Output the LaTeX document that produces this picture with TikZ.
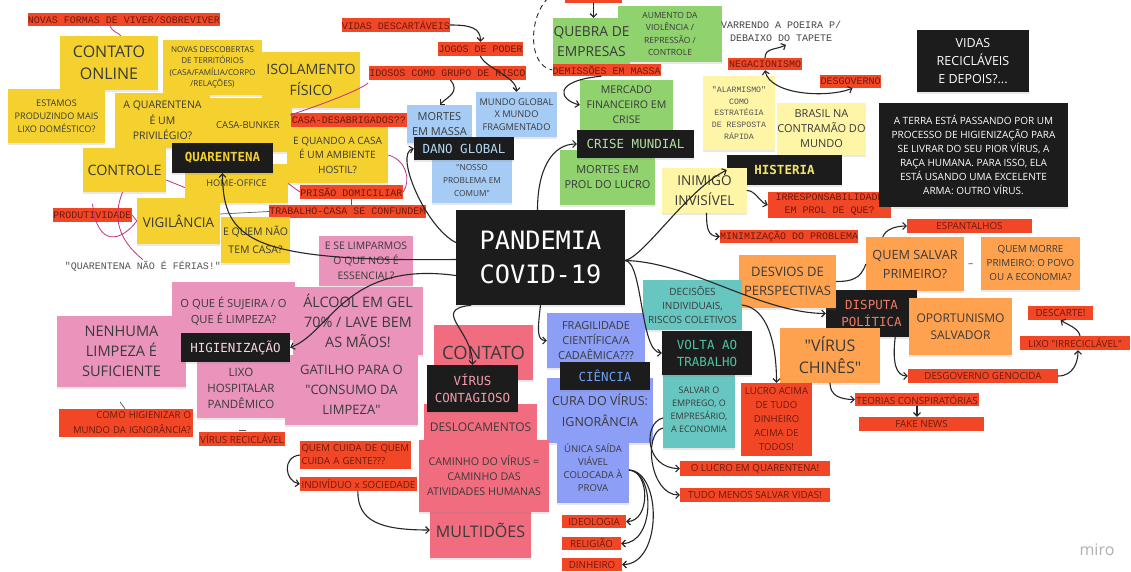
\documentclass[tikz,border=0pt]{standalone}
\usepackage{fontspec}
\setmainfont{Open Sans}
\newfontfamily\cour{Liberation Mono}
\newfontfamily\dmono{DejaVu Sans Mono}
\usetikzlibrary{arrows.meta,calc,shadows}
\definecolor{cyel}{HTML}{F5D12F}
\definecolor{clyel}{HTML}{FEF5A6}
\definecolor{cblu}{HTML}{A6CCF5}
\definecolor{cgrn}{HTML}{8FD26E}
\definecolor{corg}{HTML}{FFA24F}
\definecolor{ctea}{HTML}{67C6C0}
\definecolor{cper}{HTML}{8C9EF5}
\definecolor{cpnk}{HTML}{EA94BB}
\definecolor{cslm}{HTML}{F16C7F}
\definecolor{cred}{HTML}{F24726}
\definecolor{ctxt}{HTML}{6B1A0C}
\definecolor{cblk}{HTML}{1C1C1C}
\definecolor{ntext}{HTML}{3A3A3A}
\definecolor{tq}{HTML}{F5D12F}
\definecolor{tdano}{HTML}{B3D7F2}
\definecolor{tcrise}{HTML}{B4DFA0}
\definecolor{thist}{HTML}{F2E46B}
\definecolor{thig}{HTML}{F4D4E4}
\definecolor{tvir}{HTML}{F49BAB}
\definecolor{tcien}{HTML}{6FA0F2}
\definecolor{tvolta}{HTML}{4CC3A5}
\definecolor{tdisp}{HTML}{F07A64}
\definecolor{cline}{HTML}{262626}
\definecolor{cpinkl}{HTML}{C2308A}
\definecolor{cgraytext}{HTML}{555555}
\definecolor{cmiro}{HTML}{B0B0B0}
\newcommand\fs[2]{\fontsize{#1}{#2}\selectfont}
\newcommand\qq{\textquotedbl}
\newcommand\bx[7]{%
  \pgfmathsetmacro\myBW{#5-#3}%
  \pgfmathsetmacro\myBH{#6-#4}%
  \node[#1, minimum width=\myBW pt, minimum height=\myBH pt] (#2) at ({(#3+#5)/2},{(#4+#6)/2}) {#7};}
\tikzset{
  shd/.style={drop shadow={shadow xshift=0pt,shadow yshift=-2pt,opacity=.18}},
  base/.style={inner sep=0pt, align=center, text=ntext, shd},
  yel/.style={base, fill=cyel},
  lyel/.style={base, fill=clyel},
  blu/.style={base, fill=cblu},
  grn/.style={base, fill=cgrn},
  org/.style={base, fill=corg},
  tea/.style={base, fill=ctea},
  per/.style={base, fill=cper},
  pnk/.style={base, fill=cpnk},
  slm/.style={base, fill=cslm},
  lab/.style={inner sep=0pt, align=center, fill=cred, text=ctxt, font=\cour\fs{10}{13}},
  labs/.style={inner sep=0pt, align=center, fill=cred, text=ctxt, font=\fs{9.8}{13.5}},
  blk/.style={inner sep=0pt, align=center, fill=cblk, shd, font=\dmono\fs{12.5}{17}},
  arr/.style={draw=cline, line width=1.1pt, line cap=round, -{Straight Barb[length=3.5pt,width=7pt]}},
  arrb/.style={draw=cline, line width=1.1pt, line cap=round, {Straight Barb[length=3.5pt,width=7pt]}-{Straight Barb[length=3.5pt,width=7pt]}},
  ln/.style={draw=cline, line width=1.1pt},
  plink/.style={draw=cpinkl, line width=0.8pt},
  glink/.style={draw=gray!70!black, line width=0.7pt}
}
\begin{document}
\begin{tikzpicture}[x=1pt,y=-1pt]
\useasboundingbox (0,0) rectangle (1131,572);
\fill[white] (0,0) rectangle (1131,572);

% ---- top-left yellow cluster
\bx{yel,font={\fs{16}{22}}}{contonline}{60}{36}{158}{90}{CONTATO\\ONLINE}
\bx{yel,font={\fs{8.1}{11.3}}}{novasdesc}{163}{40}{262}{95}{NOVAS DESCOBERTAS\\DE TERRITÓRIOS\\(CASA/FAMÍLIA/CORPO\\/RELAÇÕES)}
\bx{yel,font={\fs{14.2}{21}}}{isolamento}{262}{52}{360}{108}{ISOLAMENTO\\FÍSICO}
\bx{yel,font={\fs{9.1}{13}}}{estamos}{8}{89}{105}{143}{ESTAMOS\\PRODUZINDO MAIS\\LIXO DOMÉSTICO?}
\bx{yel,font={\fs{10.5}{15.5}}}{aquar}{115}{93}{210}{148}{A QUARENTENA\\É UM\\PRIVILÉGIO?}
\bx{yel,font={\fs{9.5}{12}}}{casabunker}{204}{98}{292}{152}{CASA-BUNKER}
\bx{yel,font={\fs{14.3}{16}}}{controle}{83}{148}{166}{192}{CONTROLE}
\bx{yel,font={\fs{9.2}{12}}}{homeoffice}{185}{164}{288}{203}{HOME-OFFICE}
\bx{blk,text=tq,font={\dmono\bfseries\fs{12.5}{15}}}{quarentena}{172}{143}{273}{173}{QUARENTENA}
\bx{yel,font={\fs{10.1}{14.5}}}{equando}{287}{127}{388}{183}{E QUANDO A CASA\\É UM AMBIENTE\\HOSTIL?}
\bx{lab}{casadesab}{291}{113}{407}{127}{CASA-DESABRIGADOS??}
\bx{lab}{prisao}{300}{185}{403}{199}{PRISÃO DOMICILIAR}
\bx{lab}{trabcasa}{270}{205}{425}{218}{TRABALHO-CASA SE CONFUNDEM}
\bx{yel,font={\fs{13.4}{16}}}{vigilancia}{137}{198}{220}{244}{VIGILÂNCIA}
\bx{lab}{produtividade}{53}{208}{132}{222}{PRODUTIVIDADE}
\bx{yel,font={\fs{10.5}{18}}}{equem}{221}{217}{290}{263}{E QUEM NÃO\\TEM CASA?}
\node[font={\cour\fs{10}{12}}, text=cgraytext, inner sep=1pt] (ferias) at (143,266) {"QUARENTENA NÃO É FÉRIAS!"};
\bx{lab}{novasformas}{28}{13}{220}{26}{NOVAS FORMAS DE VIVER/SOBREVIVER}

% ---- top middle
\bx{lab}{vidasdesc}{342}{18}{450}{32}{VIDAS DESCARTÁVEIS}
\bx{lab}{jogos}{438}{42}{523}{56}{JOGOS DE PODER}
\bx{lab}{idosos}{370}{66}{525}{80}{IDOSOS COMO GRUPO DE RISCO}
\bx{blu,font={\fs{11}{15}}}{mortes}{407}{105}{472}{143}{MORTES\\EM MASSA}
\bx{blu,font={\fs{9.3}{12.5}}}{mundoglobal}{476}{92}{557}{137}{MUNDO GLOBAL\\X MUNDO\\FRAGMENTADO}
\bx{blu,font={\fs{8.3}{12.8}}}{nosso}{432}{158}{512}{203}{\qq NOSSO\\PROBLEMA EM\\COMUM\qq}
\bx{blk,text=tdano}{danoglobal}{414}{137}{514}{160}{DANO GLOBAL}

% ---- green cluster
\bx{grn,font={\fs{8.5}{12.5}}}{aumento}{618}{6}{722}{62}{AUMENTO DA\\VIOLÊNCIA /\\REPRESSÃO /\\CONTROLE}
\bx{grn,font={\fs{13.8}{19.5}}}{quebra}{553}{18}{630}{65}{QUEBRA DE\\EMPRESAS}
\bx{lab}{demissoes}{553}{64}{660}{76}{DEMISSÕES EM MASSA}
\bx{grn,font={\fs{10.6}{15}}}{mercado}{580}{80}{673}{130}{MERCADO\\FINANCEIRO EM\\CRISE}
\bx{grn,font={\fs{11}{15}}}{mortesprol}{560}{150}{655}{205}{MORTES EM\\PROL DO LUCRO}
\bx{blk,text=tcrise}{crisemundial}{577}{130}{694}{158}{CRISE MUNDIAL}
\bx{lab}{topred}{565}{-12}{622}{3}{}
\coordinate (dtop) at (548,-2);

% ---- top right
\node[font={\cour\fs{10}{13}}, text=cgraytext!80!black, align=center, inner sep=0pt] (varrendo) at (781,31.5) {VARRENDO A POEIRA P/\\DEBAIXO DO TAPETE};
\bx{lab}{negacionismo}{728}{58}{802}{70}{NEGACIONISMO}
\bx{lyel,font={\cour\fs{8.2}{11.6}},text=cgraytext}{alarmismo}{703}{76}{775}{150}{"ALARMISMO"\\COMO\\ESTRATÉGIA\\DE RESPOSTA\\RÁPIDA}
\bx{lab}{desgoverno}{820}{75}{881}{88}{DESGOVERNO}
\bx{lyel,font={\fs{11}{15}}}{brasil}{777}{103}{866}{155}{BRASIL NA\\CONTRAMÃO DO\\MUNDO}
\bx{blk,text=thist,font={\dmono\bfseries\fs{12.5}{15}}}{histeria}{727}{155}{842}{185}{HISTERIA}
\bx{lyel,font={\fs{13.6}{20}}}{inimigo}{662}{168}{747}{213}{INIMIGO\\INVISÍVEL}
\bx{lab}{irresp}{768}{192}{891}{218}{IRRESPONSABILIDADE\\EM PROL DE QUE?}
\bx{lab}{minimiz}{720}{230}{858}{243}{MINIMIZAÇÃO DO PROBLEMA}
\bx{blk,text=white,font={\fs{12.5}{18}}}{vidasrec}{917}{30}{1029}{92}{VIDAS\\RECICLÁVEIS\\E DEPOIS?...}
\bx{blk,text=white,font={\fs{10}{14}}}{terra}{879}{103}{1068}{207}{A TERRA ESTÁ PASSANDO POR UM\\PROCESSO DE HIGIENIZAÇÃO PARA\\SE LIVRAR DO SEU PIOR VÍRUS, A\\RAÇA HUMANA. PARA ISSO, ELA\\ESTÁ USANDO UMA EXCELENTE\\ARMA: OUTRO VÍRUS.}

% ---- center
\bx{blk,text=white,font={\dmono\fs{25.3}{34}}}{pandemia}{456}{210}{625}{305}{PANDEMIA\\COVID-19}

% ---- right middle orange
\bx{labs}{espantalhos}{907}{219}{1032}{233}{ESPANTALHOS}
\bx{org,font={\fs{12.7}{19}}}{quemsalvar}{866}{237}{964}{291}{QUEM SALVAR\\PRIMEIRO?}
\bx{org,font={\fs{9.8}{14}}}{quemmorre}{981}{237}{1080}{290}{QUEM MORRE\\PRIMEIRO: O POVO\\OU A ECONOMIA?}
\bx{blk,text=tdisp}{disputa}{826}{290}{917}{337}{DISPUTA\\POLÍTICA}
\bx{org,font={\fs{13}{19}}}{desvios}{739}{255}{836}{308}{DESVIOS DE\\PERSPECTIVAS}
\bx{org,font={\fs{16}{22}}}{viruschines}{780}{328}{880}{383}{\qq VÍRUS\\CHINÊS\qq}
\bx{org,font={\fs{12}{17}}}{oportunismo}{909}{298}{1012}{355}{OPORTUNISMO\\SALVADOR}
\bx{labs}{descarte}{1028}{306}{1093}{320}{DESCARTE!}
\bx{labs}{lixoirrec}{1020}{336}{1130}{350}{LIXO \qq IRRECICLÁVEL\qq}
\bx{labs}{desggenocida}{908}{369}{1058}{383}{DESGOVERNO GENOCIDA}
\bx{labs}{teorias}{855}{393}{979}{406}{TEORIAS CONSPIRATÓRIAS}
\bx{labs}{fakenews}{859}{417}{984}{431}{FAKE NEWS}

% ---- teal
\bx{tea,font={\fs{10}{14}}}{decisoes}{643}{280}{742}{330}{DECISÕES\\INDIVIDUAIS,\\RISCOS COLETIVOS}
\bx{tea,font={\fs{9}{13}}}{salvar}{663}{372}{735}{448}{SALVAR O\\EMPREGO, O\\EMPRESÁRIO,\\A ECONOMIA}
\bx{blk,text=tvolta}{volta}{662}{331}{752}{375}{VOLTA AO\\TRABALHO}
\bx{labs,font={\fs{9.6}{14}}}{lucroacima}{741}{383}{812}{456}{LUCRO ACIMA\\DE TUDO\\DINHEIRO\\ACIMA DE\\TODOS!}
\bx{labs}{lucroquar}{680}{461}{830}{476}{O LUCRO EM QUARENTENA!}
\bx{labs}{tudomenos}{680}{488}{830}{502}{TUDO MENOS SALVAR VIDAS!}

% ---- periwinkle
\bx{per,font={\fs{11}{15}}}{fragil}{547}{313}{645}{368}{FRAGILIDADE\\CIENTÍFICA/A\\CADAÊMICA???}
\bx{per,font={\fs{12.5}{21}}}{curavirus}{547}{378}{653}{443}{CURA DO VÍRUS:\\IGNORÂNCIA}
\bx{per,font={\fs{9.5}{13}}}{unica}{557}{433}{629}{503}{ÚNICA SAÍDA\\VIÁVEL\\COLOCADA À\\PROVA}
\bx{blk,text=tcien}{ciencia}{560}{362}{650}{390}{CIÊNCIA}
\bx{labs}{ideologia}{562}{515}{626}{528}{IDEOLOGIA}
\bx{labs}{religiao}{562}{537}{621}{550}{RELIGIÃO}
\bx{labs}{dinheiro}{562}{558}{622}{571}{DINHEIRO}

% ---- pink
\bx{pnk,font={\fs{10.4}{15}}}{esselimp}{319}{236}{413}{286}{E SE LIMPARMOS\\O QUE NOS É\\ESSENCIAL?}
\bx{pnk,font={\fs{14.4}{20}}}{alcool}{293}{287}{423}{355}{ÁLCOOL EM GEL\\70\% / LAVE BEM\\AS MÃOS!}
\bx{pnk,font={\fs{11.2}{16}}}{oqueesujeira}{172}{282}{295}{340}{O QUE É SUJEIRA / O\\QUE É LIMPEZA?}
\bx{pnk,font={\fs{14.6}{20}}}{nenhuma}{57}{316}{186}{387}{NENHUMA\\LIMPEZA É\\SUFICIENTE}
\bx{pnk,font={\fs{11.5}{16}}}{lixohosp}{197}{358}{285}{418}{LIXO\\HOSPITALAR\\PANDÊMICO}
\bx{pnk,font={\fs{13}{20}}}{gatilho}{285}{355}{418}{425}{GATILHO PARA O\\\qq CONSUMO DA\\LIMPEZA\qq}
\bx{blk,text=thig}{higienizacao}{181}{333}{290}{362}{HIGIENIZAÇÃO}
\bx{labs,font={\fs{9.5}{15}},align=right,text width=130pt}{comohig}{59}{409}{193}{437}{COMO HIGIENIZAR O\\MUNDO DA IGNORÂNCIA?}
\bx{labs}{virusrec}{199}{432}{285}{446}{VÍRUS RECICLÁVEL}
\bx{labs,font={\fs{9.6}{13}},align=left,text width=108pt}{quemcuida}{300}{441}{411}{469}{QUEM CUIDA DE QUEM\\CUIDA A GENTE???}
\bx{labs}{individuo}{300}{477}{417}{491}{INDIVÍDUO x SOCIEDADE}

% ---- salmon
\bx{slm,font={\fs{18.4}{20}}}{contato}{434}{325}{533}{380}{CONTATO}
\bx{slm,font={\fs{12}{14}}}{desloc}{424}{404}{537}{450}{DESLOCAMENTOS}
\bx{slm,font={\fs{16}{20}}}{multidoes}{430}{502}{531}{558}{MULTIDÕES}
\bx{slm,font={\fs{10.7}{15}}}{caminho}{419}{440}{549}{512}{CAMINHO DO VÍRUS =\\CAMINHO DAS\\ATIVIDADES HUMANAS}
\bx{blk,text=tvir}{viruscont}{427}{365}{518}{412}{VÍRUS\\CONTAGIOSO}

\node[font={\fs{16}{18}}, text=cmiro] (miro) at (1097,550) {miro};

% ---- connectors
\draw[arr] ($(pandemia.west)+(0,2)$) .. controls (250,262) and (223,240) .. (quarentena.south);
\draw[arr] ($(pandemia.west)+(0,18)$) .. controls +(-110,-15) and +(40,-15) .. (higienizacao.east);
\draw[arr] ($(pandemia.west)+(0,-15)$) .. controls +(-30,-15) and +(-20,5) .. (danoglobal.west);
\draw[arr] ($(pandemia.north)+(-3,0)$) .. controls +(0,-40) and +(-25,0) .. (crisemundial.west);
\draw[arr] ($(demissoes.south west)!0.45!(demissoes.south east)$) .. controls +(-50,5) and +(-20,-5) .. (mercado.west);
\draw[ln, line width=0.9pt, dash pattern=on 5pt off 4pt] (dtop) .. controls (528,18) and (528,66) .. (demissoes.west);
\draw[arr] (topred.south) -- (topred.south |- quebra.north);
\draw[arr] (vidasdesc.east) .. controls +(20,0) and +(0,-14) .. (jogos.north);
\draw[arr] (jogos.south) .. controls +(5,12) and +(0,-15) .. (mundoglobal.north);
\draw[arr] ($(idosos.south)+(3,0)$) .. controls +(10,12) and +(8,-8) .. (mortes.north);
\draw[arr] (negacionismo.north) .. controls +(0,-10) and +(-10,5) .. ($(varrendo.south)+(5,3)$);
\draw[arrb] (negacionismo.south) .. controls +(5,25) and +(-25,10) .. ($(desgoverno.south)+(2,0)$);
\draw[arr] ($(pandemia.east)+(0,3)$) .. controls +(20,-5) and +(-40,20) .. (histeria.west);
\draw[arr] (inimigo.east) .. controls +(8,0) and +(-8,-3) .. (irresp.west);
\draw[arr] ($(inimigo.south)+(2,0)$) .. controls +(0,15) and +(-12,0) .. (minimiz.west);
\draw[arr] ($(pandemia.east)+(0,3)$) .. controls (690,262) and (760,313) .. (disputa.west);
\draw[arr] ($(pandemia.east)+(0,3)$) .. controls (643,262) and (640,352) .. (volta.west);
\draw[arr] (pandemia.south) .. controls +(-3,25) and +(-10,0) .. (fragil.west);
\draw[arr] ($(pandemia.south west)+(15,0)$) .. controls +(-40,5) and +(0,-35) .. (viruscont.north);
\draw[arr] (decisoes.east) .. controls +(25,3) and +(0,-40) .. (lucroacima.north);
\draw[ln] (desvios.east) .. controls +(15,0) and +(-5,15) .. (quemsalvar.west);
\draw[arr] ($(quemsalvar.north west)+(17,0)$) .. controls +(3,-8) and +(-10,0) .. (espantalhos.west);
\draw[arr] ($(lixoirrec.north)+(5,0)$) .. controls +(-2,-8) and +(8,5) .. (descarte.south);
\draw[arr] (desggenocida.east) .. controls +(15,0) and +(0,12) .. ($(lixoirrec.south)+(3,0)$);
\draw[arr] ($(disputa.south east)+(-22,0)$) .. controls +(-3,25) and +(-12,0) .. (desggenocida.west);
\draw[arr] (viruschines.south) .. controls +(0,12) and +(-15,0) .. (teorias.west);
\draw[arr] (teorias.south) -- (teorias.south |- fakenews.north);
\draw[arr] ($(salvar.west)+(0,8)$) .. controls +(-20,5) and +(-35,0) .. (lucroquar.west);
\draw[arr] ($(salvar.west)+(0,18)$) .. controls +(-20,5) and +(-30,0) .. (tudomenos.west);
\draw[arr] ($(unica.east)+(0,2)$) .. controls +(21,2) and +(24,0) .. (ideologia.east);
\draw[arr] ($(unica.east)+(0,2)$) .. controls +(26,2) and +(34,0) .. (religiao.east);
\draw[arr] ($(unica.east)+(0,2)$) .. controls +(33,2) and +(40,0) .. (dinheiro.east);
\draw[arr] (quemcuida.west) .. controls +(-18,2) and +(-15,-3) .. (individuo.west);
\draw[arr] ($(individuo.south west)+(58,0)$) .. controls +(0,30) and +(-50,0) .. (multidoes.west);

% ---- thin links
\draw[plink] ($(novasformas.south)+(-14,0)$) .. controls +(3,6) and +(-4,-4) .. ($(contonline.north)+(12,0)$);
\draw[plink] (produtividade.east) -- (vigilancia.west);
\draw[plink] ($(produtividade.north)+(0,-4)$) .. controls +(5,45) and +(-15,20) .. (vigilancia.west);
\draw[plink] ($(controle.south)+(-2,0)$) .. controls +(-10,25) and +(-25,-20) .. (ferias.north);
\draw[plink] ($(casabunker.east)+(-2,-10)$) .. controls +(30,-10) and +(-10,8) .. ($(isolamento.east)+(8,3)$);
\draw[plink] (homeoffice.east) -- (prisao.west);
\draw[plink] (equando.east) .. controls +(18,5) and +(8,-12) .. (prisao.east);
\draw[plink] ($(controle.east)+(0,10)$) -- ($(homeoffice.west)+(0,4)$);
\draw[glink] ($(vigilancia.east)+(0,-7)$) -- (trabcasa.west);
\draw[glink] (prisao.south) -- (prisao.south |- trabcasa.north);
\draw[glink] ($(comohig.north)+(-6,-7)$) -- ($(comohig.north)+(-1,0)$);
\draw[glink] ($(virusrec.north)+(-3,-1)$) -- +(7,0);
\draw[glink, shorten <=4pt, shorten >=8pt] (quemsalvar.east) -- (quemmorre.west);
\end{tikzpicture}
\end{document}
